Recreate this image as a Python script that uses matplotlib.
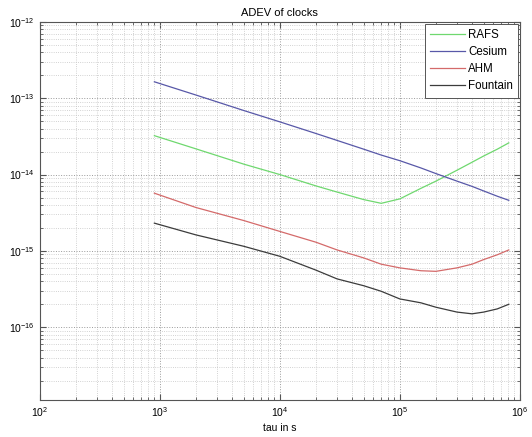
import matplotlib
matplotlib.use("Agg")

import matplotlib.pyplot as plt
from matplotlib.ticker import FixedLocator, LogFormatterSciNotation

plt.rcParams["font.family"] = ["Liberation Sans", "DejaVu Sans"]
plt.rcParams["mathtext.fontset"] = "custom"
plt.rcParams["mathtext.rm"] = "Liberation Sans"

# averaging times (s)
tau = [900, 2000, 5000, 1e4, 2e4, 3e4, 5e4, 7e4, 1e5, 1.5e5, 2e5, 3e5, 4e5, 5e5, 6.5e5, 8.1e5]

# Allan deviation per clock
adev_rafs = [3.23e-14, 2.17e-14, 1.37e-14, 1.0e-14, 7.1e-15, 5.9e-15, 4.7e-15, 4.2e-15,
             4.8e-15, 6.6e-15, 8.2e-15, 1.14e-14, 1.45e-14, 1.75e-14, 2.15e-14, 2.6e-14]
adev_cesium = [1.64e-13, 1.10e-13, 6.9e-14, 4.9e-14, 3.45e-14, 2.8e-14, 2.15e-14, 1.8e-14,
               1.52e-14, 1.22e-14, 1.03e-14, 8.2e-15, 7.0e-15, 6.1e-15, 5.2e-15, 4.6e-15]
adev_ahm = [5.7e-15, 3.7e-15, 2.5e-15, 1.8e-15, 1.3e-15, 1.03e-15, 8.1e-16, 6.7e-16,
            6.0e-16, 5.5e-16, 5.4e-16, 6.0e-16, 6.7e-16, 7.7e-16, 8.9e-16, 1.03e-15]
adev_fountain = [2.31e-15, 1.62e-15, 1.15e-15, 8.5e-16, 5.6e-16, 4.3e-16, 3.5e-16, 2.96e-16,
                 2.35e-16, 2.09e-16, 1.83e-16, 1.58e-16, 1.5e-16, 1.58e-16, 1.74e-16, 2.0e-16]

labels = ["RAFS", "Cesium", "AHM", "Fountain"]
colors = ["#6fd86f", "#5858a8", "#d46a6a", "#3c3c3c"]

x_major = [1e2, 1e3, 1e4, 1e5, 1e6]
y_major = [1e-16, 1e-15, 1e-14, 1e-13, 1e-12]

fig = plt.figure(figsize=(5.32, 4.37), dpi=100)
ax = fig.add_axes([0.075, 0.085, 0.902, 0.865])

for y, lab, c in zip([adev_rafs, adev_cesium, adev_ahm, adev_fountain], labels, colors):
    ax.loglog(tau, y, color=c, lw=0.9, label=lab)

ax.set_xlim(1e2, 1e6)
ax.set_ylim(1.12e-17, 1e-12)

# fixed ticks so nothing is placed outside the limits
x_minor = [m * d for d in x_major[:-1] for m in range(2, 10)]
y_minor = [m * d for d in [1e-17] + y_major[:-1] for m in range(2, 10)]
y_minor = [v for v in y_minor if v > 1.12e-17]
ax.xaxis.set_major_locator(FixedLocator(x_major))
ax.yaxis.set_major_locator(FixedLocator(y_major))
ax.xaxis.set_minor_locator(FixedLocator(x_minor))
ax.yaxis.set_minor_locator(FixedLocator(y_minor))
ax.xaxis.set_major_formatter(LogFormatterSciNotation())
ax.yaxis.set_major_formatter(LogFormatterSciNotation())

ax.grid(True, which="major", ls=":", color="#9a9a9a", lw=0.7)
ax.grid(True, which="minor", ls=":", color="#c4c4c4", lw=0.6)

ax.tick_params(which="both", direction="in", top=True, right=True, labelsize=7.5,
               color="#555555")
ax.tick_params(which="major", length=4)
ax.tick_params(which="minor", length=2)
for s in ax.spines.values():
    s.set_color("#555555")
    s.set_linewidth(0.8)

ax.set_title("ADEV of clocks", fontsize=8, pad=4)
ax.set_xlabel("tau in s", fontsize=7.5, labelpad=3)

leg = ax.legend(loc="upper right", fontsize=8.3, handlelength=3.0, frameon=True,
                fancybox=False, edgecolor="#555555", borderpad=0.45, labelspacing=0.45,
                borderaxespad=0.15, handletextpad=0.3)
leg.get_frame().set_linewidth(0.7)
leg.get_frame().set_alpha(1)

fig.savefig("out.png", dpi=100)
